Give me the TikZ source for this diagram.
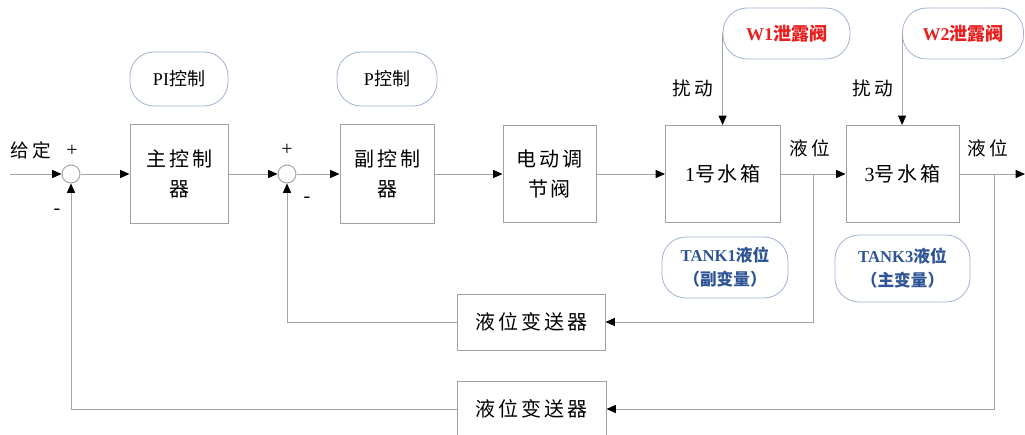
\documentclass[tikz,border=0pt]{standalone}
\usepackage{fontspec}
\setmainfont{Liberation Serif}
\newfontfamily\cjk[LetterSpace=15]{Noto Sans CJK SC}
\newfontfamily\cjksm{Noto Sans CJK SC}
\usetikzlibrary{arrows.meta}
\definecolor{linegray}{RGB}{165,165,165}
\definecolor{boxgray}{RGB}{160,160,160}
\definecolor{rndblue}{RGB}{160,178,210}
\definecolor{txtblue}{RGB}{46,84,150}
\definecolor{txtred}{RGB}{235,30,30}
\tikzset{
  blk/.style={draw=boxgray, line width=0.75pt, align=center, inner sep=0pt,
    font=\cjk\fontsize{15}{22.5}\selectfont},
  rnd/.style={draw=rndblue, line width=0.6pt, rounded corners=18pt, align=center, inner sep=0pt},
  sumc/.style={draw=linegray, line width=0.75pt, circle, minimum size=13.5pt, inner sep=0pt},
  conn/.style={draw=linegray, line width=0.75pt},
  arr/.style={conn, -{Triangle[length=7pt,width=6pt,color=black]}},
  lbl/.style={font=\cjk\fontsize{14}{16}\selectfont, inner sep=0pt},
  sgn/.style={font=\fontsize{15}{16}\selectfont, inner sep=0pt}
}
\begin{document}
\begin{tikzpicture}[x=0.75pt,y=-0.75pt]
\useasboundingbox (0,0) rectangle (1025,435);
% main path nodes
\coordinate (in) at (10,174);
\node[sumc] (s1) at (71,174) {};
\node[blk, minimum width=73.5pt, minimum height=73.5pt] (main) at (179,174) {主控制\\器};
\node[rnd, minimum width=73.5pt, minimum height=40.5pt, font=\fontsize{13.5}{15}\selectfont] (PI) at (179,79) {PI{\cjksm 控制}};
\node[sumc] (s2) at (287,174) {};
\node[blk, minimum width=70.5pt, minimum height=73.5pt] (sub) at (387,174) {副控制\\器};
\node[rnd, minimum width=75pt, minimum height=40.5pt, font=\fontsize{13.5}{15}\selectfont] (P) at (387,79) {P{\cjksm 控制}};
\node[blk, minimum width=69.75pt, minimum height=72.75pt] (valve) at (549.5,174) {电动调\\节阀};
\node[blk, minimum width=86.25pt, minimum height=72.75pt] (tank1) at (723,174) {{\rmfamily 1}号水箱};
\node[blk, minimum width=84.75pt, minimum height=72.75pt] (tank3) at (902.5,174) {{\rmfamily 3}号水箱};
\node[rnd, minimum width=95.25pt, minimum height=38.25pt, text=txtred, font=\bfseries\fontsize{13.5}{15}\selectfont] (W1) at (786.5,33.5) {W1{\cjksm\bfseries 泄露阀}};
\node[rnd, minimum width=90.75pt, minimum height=38.25pt, text=txtred, font=\bfseries\fontsize{13.5}{15}\selectfont] (W2) at (963,33.5) {W2{\cjksm\bfseries 泄露阀}};
\node[rnd, minimum width=94.5pt, minimum height=45.75pt, text=txtblue, font=\bfseries\fontsize{12.5}{18}\selectfont] (T1) at (725,267.5) {TANK1{\cjksm\bfseries 液位}\\{\cjksm\bfseries （副变量）}};
\node[rnd, minimum width=101.25pt, minimum height=50.25pt, text=txtblue, font=\bfseries\fontsize{12.5}{18}\selectfont] (T3) at (902.5,268.5) {TANK3{\cjksm\bfseries 液位}\\{\cjksm\bfseries （主变量）}};
\node[blk, minimum width=111pt, minimum height=42pt] (tr1) at (531,322) {液位变送器};
\node[blk, minimum width=111.75pt, minimum height=41pt] (tr2) at (531.5,409) {液位变送器};
\coordinate (out) at (1025,174);
\coordinate (t1) at (813,174);
\coordinate (t2) at (994,174);
% labels
\node[lbl] (gd) at (31,150) {给定};
\node[sgn] (p1) at (72,151) {+};
\node[sgn] (m1) at (57,212) {-};
\node[sgn] (p2) at (287,150) {+};
\node[sgn] (m2) at (307,200) {-};
\node[lbl] (rd1) at (693,88) {扰动};
\node[lbl] (rd2) at (873,88) {扰动};
\node[lbl] (yw1) at (810,148) {液位};
\node[lbl] (yw2) at (988,148) {液位};
% connectors
\draw[arr] (in) -- (s1);
\draw[arr] (s1) -- (main);
\draw[arr] (main) -- (s2);
\draw[arr] (s2) -- (sub);
\draw[arr] (sub) -- (valve);
\draw[arr] (valve) -- (tank1);
\draw[arr] (tank1) -- (tank3);
\draw[arr] (tank3) -- (out);
\draw[arr] (W1.west) -- (W1.west |- tank1.north);
\draw[arr] (W2.west) -- (W2.west |- tank3.north);
\draw[arr] (t1) |- (tr1.east);
\draw[arr] (tr1.west) -| (s2.south);
\draw[arr] (t2) |- (tr2.east);
\draw[arr] (tr2.west) -| (s1.south);
\end{tikzpicture}
\end{document}
